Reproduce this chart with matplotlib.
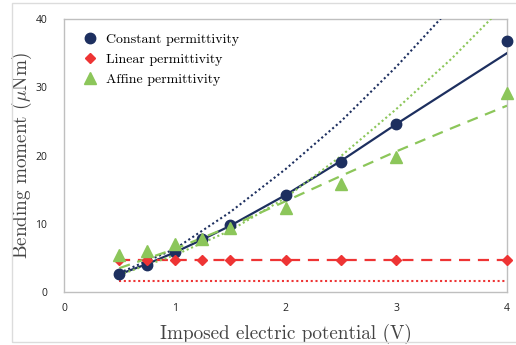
import matplotlib.pyplot as plt
from matplotlib.patches import Rectangle

plt.rcParams['mathtext.fontset'] = 'cm'

# measured points
voltage = [0.5, 0.75, 1.0, 1.25, 1.5, 2.0, 2.5, 3.0, 4.0]
m_constant = [2.6, 4.0, 5.8, 7.8, 9.8, 14.2, 19.1, 24.6, 36.8]
m_linear = [4.7, 4.7, 4.7, 4.7, 4.7, 4.7, 4.7, 4.7, 4.7]
m_affine = [5.4, 6.0, 7.0, 7.7, 9.4, 12.3, 15.8, 19.8, 29.2]

# model curves
v_fit = [0.5, 0.75, 1.0, 1.25, 1.5, 2.0, 2.5, 3.0, 4.0]
fit_constant = [2.6, 4.1, 5.8, 7.7, 9.7, 14.2, 19.2, 24.6, 35.0]
v_curve = [0.5, 1.0, 1.5, 2.0, 2.5, 3.0, 3.5, 4.0]
approx_constant = [2.8, 6.3, 11.7, 18.0, 25.0, 33.0, 41.8, 51.0]
approx_affine = [2.5, 5.4, 9.0, 13.8, 19.9, 26.8, 34.2, 42.4]
fit_affine = [3.5, 6.3, 9.6, 13.3, 17.0, 20.6, 24.0, 27.3]
v_lin = [0.5, 4.0]
fit_linear = [4.7, 4.7]
approx_linear = [1.65, 1.65]

navy = '#1d2f5f'
red = '#ee3434'
green = '#8cc65a'

fig = plt.figure(figsize=(5.16, 3.45), dpi=100)
ax = fig.add_axes([0.124, 0.1536, 0.8586, 0.7913])

# outer frame
fig.patches.append(Rectangle((12 / 516, 3 / 345), 510 / 516, 339 / 345,
                             transform=fig.transFigure, fill=False,
                             edgecolor='#dcdcdc', lw=1))

ax.plot(v_fit, fit_constant, color=navy, lw=1.6, zorder=3)
ax.plot(v_curve, approx_constant, color=navy, lw=1.5, ls=(0, (1, 1.3)), zorder=3)
ax.plot(v_lin, fit_linear, color=red, lw=1.6, ls=(0, (5, 3.5)), zorder=3)
ax.plot(v_lin, approx_linear, color=red, lw=1.5, ls=(0, (1, 1.3)), zorder=3)
ax.plot(v_curve, fit_affine, color=green, lw=1.6, ls=(0, (5, 3.5)), zorder=3)
ax.plot(v_curve, approx_affine, color=green, lw=1.5, ls=(0, (1, 1.3)), zorder=3)

ax.plot(voltage, m_constant, 'o', color=navy, ms=7.5, label='Constant permittivity', zorder=4, clip_on=False)
ax.plot(voltage, m_linear, 'D', color=red, ms=5.5, label='Linear permittivity', zorder=4, clip_on=False)
ax.plot(voltage, m_affine, '^', color=green, ms=8, label='Affine permittivity', zorder=4, clip_on=False)

ax.set_xlim(0, 4)
ax.set_ylim(0, 40)
ax.set_xticks([0, 1, 2, 3, 4])
ax.set_yticks([0, 10, 20, 30, 40])
for s in ax.spines.values():
    s.set_color('#bfbfbf')
    s.set_linewidth(1)
ax.tick_params(length=0, labelsize=7.5, colors='#222222', pad=8)
ax.tick_params(axis='y', pad=12)
for lab in ax.get_xticklabels() + ax.get_yticklabels():
    lab.set_fontfamily('Open Sans')

ax.set_xlabel('Imposed electric potential (V)', fontfamily='cmr10', fontsize=13.8,
              color='#444444', labelpad=7)
ax.set_ylabel(r'Bending moment ($\mu$Nm)', fontfamily='cmr10', fontsize=13.8,
              color='#444444', labelpad=1)

leg = ax.legend(loc='upper left', bbox_to_anchor=(0.01, 0.99), frameon=False,
                prop={'family': 'cmr10', 'size': 10}, handletextpad=0.4,
                handlelength=1.5, labelspacing=0.55, borderaxespad=0.4)

fig.savefig('out.png', dpi=100)
